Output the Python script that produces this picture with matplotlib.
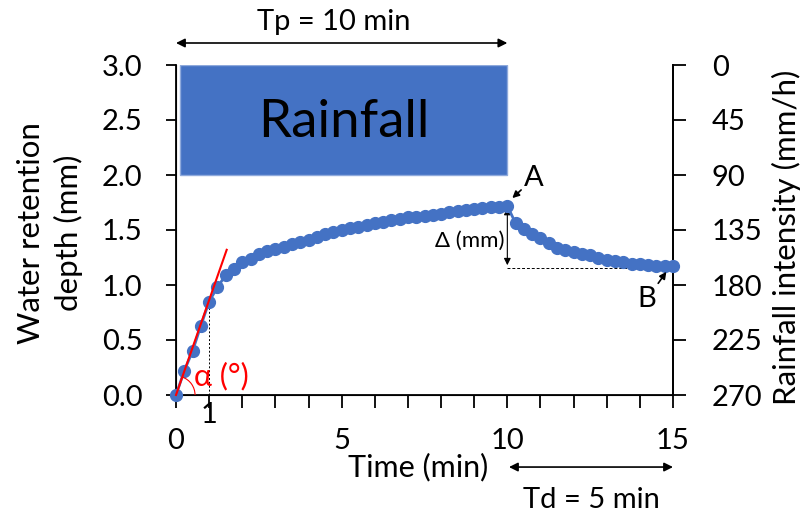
import numpy as np
import matplotlib
matplotlib.use("Agg")
import matplotlib.pyplot as plt
from matplotlib.patches import Arc, Rectangle

plt.rcParams['font.family'] = ['Lato', 'DejaVu Sans']

time_min = [0.0, 0.25, 0.5, 0.75, 1.0, 1.25, 1.5, 1.75, 2.0, 2.25, 2.5, 2.75,
            3.0, 3.25, 3.5, 3.75, 4.0, 4.25, 4.5, 4.75, 5.0, 5.25, 5.5, 5.75,
            6.0, 6.25, 6.5, 6.75, 7.0, 7.25, 7.5, 7.75, 8.0, 8.25, 8.5, 8.75,
            9.0, 9.25, 9.5, 9.75, 10.0, 10.25, 10.5, 10.75, 11.0, 11.25, 11.5,
            11.75, 12.0, 12.25, 12.5, 12.75, 13.0, 13.25, 13.5, 13.75, 14.0,
            14.25, 14.5, 14.75, 15.0]
depth_mm = [0.00, 0.22, 0.40, 0.63, 0.85, 0.98, 1.09, 1.15, 1.21, 1.24, 1.28, 1.31,
            1.33, 1.35, 1.37, 1.39, 1.41, 1.44, 1.46, 1.48, 1.50, 1.52, 1.53, 1.55,
            1.56, 1.57, 1.59, 1.60, 1.62, 1.62, 1.63, 1.64, 1.65, 1.66, 1.67, 1.68,
            1.69, 1.70, 1.71, 1.71, 1.72, 1.56, 1.51, 1.46, 1.43, 1.38, 1.34,
            1.32, 1.30, 1.28, 1.27, 1.25, 1.23, 1.22, 1.21, 1.19, 1.19,
            1.18, 1.175, 1.17, 1.17]

x_ticks = list(range(0, 16))
x_labels = ['0', '', '', '', '', '5', '', '', '', '', '10', '', '', '', '', '15']
left_ticks = [0.0, 0.5, 1.0, 1.5, 2.0, 2.5, 3.0]
right_ticks = [0, 45, 90, 135, 180, 225, 270]

rain_start, rain_end = 0.12, 10.0
rain_bottom, rain_top = 2.0, 3.0
slope_end = (1.53, 1.32)
point_A = (10.0, 1.72)
point_B = (15.0, 1.16)

blue = '#4472C4'
FS = 21
W, H = 801, 514

fig = plt.figure(figsize=(8.01, 5.14), dpi=100)
ax = fig.add_axes([176/W, 119/H, (673-176)/W, (395-65)/H])
ax.set_xlim(0, 15)
ax.set_ylim(0, 3)

ax.add_patch(Rectangle((rain_start, rain_bottom), rain_end - rain_start, rain_top - rain_bottom,
                       facecolor=blue, edgecolor='#8FAADC', lw=1, zorder=1))
ax.text((rain_start + rain_end) / 2, (rain_bottom + rain_top) / 2 - 0.02, 'Rainfall',
        fontsize=38, ha='center', va='center', color='black')

ax.plot(time_min, depth_mm, color=blue, marker='o', ms=8.5, lw=2, clip_on=False, zorder=3)

# slope line and angle
ax.plot([0, slope_end[0]], [0, slope_end[1]], color='red', lw=1.5, zorder=4, clip_on=False)
ang = np.degrees(np.arctan2(slope_end[1], slope_end[0]))
ax.add_patch(Arc((0, 0), 2 * 19 / 33.07, 2 * 19 / 110, theta1=0, theta2=ang,
                 color='red', lw=0.8, zorder=4))
ax.text(0.55, 0.17, 'α (°)', color='red', fontsize=22, ha='left', va='center')
ax.plot([1, 1], [0, depth_mm[4]], color='black', lw=0.7, ls=(0, (2, 2)), zorder=2)
ax.text(1, -0.06, '1', fontsize=FS, ha='center', va='top')

# delta arrow
ax.annotate('', xy=(point_A[0], 1.70), xytext=(point_A[0], 1.18),
            arrowprops=dict(arrowstyle='<|-|>', color='black', lw=0.8,
                            shrinkA=0, shrinkB=0, mutation_scale=10), zorder=2)
ax.plot([point_A[0], point_B[0]], [1.155, 1.155], color='black', lw=0.7,
        ls=(0, (3, 2)), zorder=2)
ax.text(9.9, 1.40, 'Δ (mm)', fontsize=16, ha='right', va='center')

ax.annotate('A', xy=(10.15, 1.79), xytext=(10.5, 1.97), fontsize=FS,
            ha='left', va='center',
            arrowprops=dict(arrowstyle='-|>', color='black', lw=1.2,
                            shrinkA=0, shrinkB=0, mutation_scale=10))
ax.annotate('B', xy=(14.8, 1.12), xytext=(14.5, 0.99), fontsize=FS,
            ha='right', va='top',
            arrowprops=dict(arrowstyle='-|>', color='black', lw=1.2,
                            shrinkA=0, shrinkB=0, mutation_scale=10))

# Tp and Td arrows
ax.annotate('', xy=(0, 3.2), xytext=(10, 3.2), annotation_clip=False,
            arrowprops=dict(arrowstyle='<|-|>', color='black', lw=1.2,
                            shrinkA=0, shrinkB=0, mutation_scale=13))
ax.text(4.75, 3.39, 'Tp = 10 min', fontsize=FS, ha='center', va='center')
ax.annotate('', xy=(10.05, -0.655), xytext=(15, -0.655), annotation_clip=False,
            arrowprops=dict(arrowstyle='<|-|>', color='black', lw=1.2,
                            shrinkA=0, shrinkB=0, mutation_scale=13))
ax.text(12.55, -0.955, 'Td = 5 min', fontsize=FS, ha='center', va='center')
ax.text(7.3, -0.655, 'Time (min)', fontsize=22, ha='center', va='center')

# axes styling
ax.spines['top'].set_visible(False)
for s in ['left', 'bottom', 'right']:
    ax.spines[s].set_linewidth(1.3)
ax.set_xticks(x_ticks)
ax.set_xticklabels(x_labels)
ax.tick_params(axis='x', direction='out', length=9, width=1.3, labelsize=FS, pad=15)
ax.set_yticks(left_ticks)
ax.set_yticklabels([f'{v:.1f}' for v in left_ticks])
ax.tick_params(axis='y', direction='out', length=7, width=1.3, labelsize=FS, pad=17)

ax2 = ax.twinx()
ax2.set_ylim(270, 0)
ax2.set_yticks(right_ticks)
ax2.set_yticklabels([str(v) for v in right_ticks])
ax2.spines['top'].set_visible(False)
ax2.spines['right'].set_linewidth(1.3)
ax2.tick_params(axis='y', direction='out', length=9, width=1.3, labelsize=FS, pad=19)
ax.set_zorder(ax2.get_zorder() + 1)
ax.patch.set_visible(False)

# axis titles
fig.text(50/W, 1 - 233/H, 'Water retention\ndepth (mm)', fontsize=22.5, rotation=90,
         ha='center', va='center', multialignment='center', linespacing=1.4)
fig.text(786/W, 1 - 237/H, 'Rainfall intensity (mm/h)', fontsize=22.5, rotation=90,
         ha='center', va='center')

fig.savefig('out.png', dpi=100)
